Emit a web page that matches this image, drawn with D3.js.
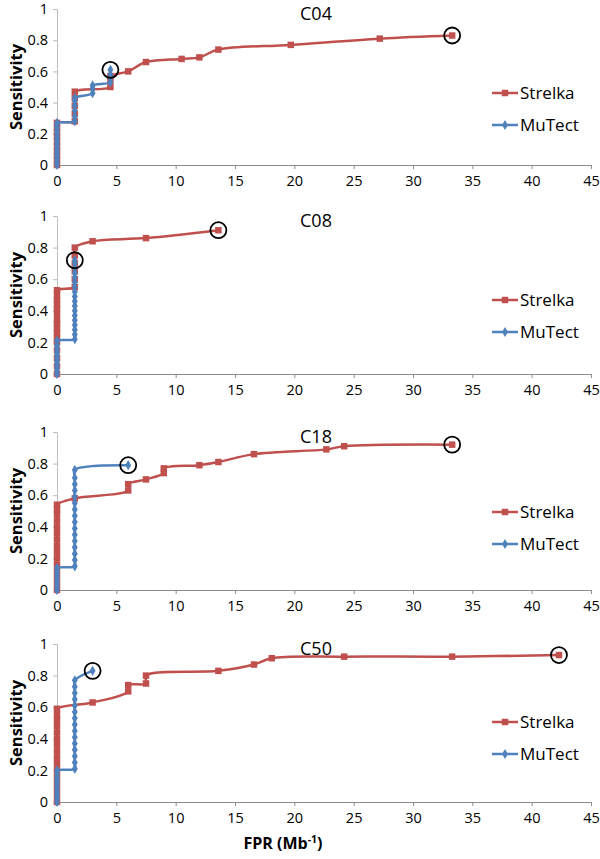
<!DOCTYPE html>
<html>
<head>
<meta charset="utf-8">
<script src="https://cdn.jsdelivr.net/npm/d3@7"></script>
<style>
  body { margin: 0; background: #fff; }
  svg { display: block; font-family: "Open Sans", sans-serif; }
</style>
</head>
<body>
<svg id="chart" width="600" height="859"></svg>
<script>
// --- data (FPR per Mb, sensitivity) ---
const sampleNames = ["C04", "C08", "C18", "C50"];
const seriesNames = ["Strelka", "MuTect"];
const xTicks = [0, 5, 10, 15, 20, 25, 30, 35, 40, 45];
const yTicks = [0, 0.2, 0.4, 0.6, 0.8, 1];

const c04Strelka = [[0,0],[0,0.03],[0,0.06],[0,0.09],[0,0.12],[0,0.15],[0,0.18],[0,0.21],[0,0.24],[0,0.27],
  [1.5,0.28],[1.5,0.33],[1.5,0.38],[1.5,0.43],[1.5,0.47],[4.5,0.5],[4.5,0.54],[4.5,0.57],[6,0.6],[7.5,0.66],
  [10.5,0.68],[12,0.69],[13.6,0.74],[19.7,0.77],[27.2,0.81],[33.3,0.83]];
const c04MuTect = [[0,0],[0,0.02],[0,0.04],[0,0.06],[0,0.08],[0,0.1],[0,0.12],[0,0.14],[0,0.16],[0,0.18],[0,0.2],
  [0,0.22],[0,0.24],[0,0.26],[0,0.27],[1.5,0.28],[1.5,0.31],[1.5,0.35],[1.5,0.38],[1.5,0.41],[1.5,0.43],
  [3,0.46],[3,0.49],[3,0.51],[4.5,0.53],[4.5,0.56],[4.5,0.58],[4.5,0.61]];

const c08Strelka = [[0,0],[0,0.05],[0,0.1],[0,0.15],[0,0.2],[0,0.23],[0,0.26],[0,0.29],[0,0.32],[0,0.34],
  [0,0.38],[0,0.41],[0,0.44],[0,0.47],[0,0.5],[0,0.53],[1.5,0.55],[1.5,0.6],[1.5,0.65],[1.5,0.7],[1.5,0.75],
  [1.5,0.8],[3,0.84],[7.5,0.86],[13.6,0.91]];
const c08MuTect = [[0,0],[0,0.02],[0,0.04],[0,0.06],[0,0.08],[0,0.1],[0,0.12],[0,0.14],[0,0.16],[0,0.18],[0,0.21],
  [1.5,0.22],[1.5,0.25],[1.5,0.28],[1.5,0.31],[1.5,0.34],[1.5,0.37],[1.5,0.4],[1.5,0.43],[1.5,0.46],[1.5,0.49],
  [1.5,0.52],[1.5,0.55],[1.5,0.58],[1.5,0.61],[1.5,0.64],[1.5,0.67],[1.5,0.7],[1.5,0.72]];

const c18Strelka = [[0,0],[0,0.04],[0,0.08],[0,0.12],[0,0.16],[0,0.2],[0,0.24],[0,0.28],[0,0.32],[0,0.36],
  [0,0.4],[0,0.44],[0,0.48],[0,0.51],[0,0.54],[1.5,0.58],[6,0.63],[6,0.67],[7.5,0.7],[9,0.74],[9,0.77],
  [12,0.79],[13.6,0.81],[16.6,0.86],[22.7,0.89],[24.2,0.91],[33.3,0.92]];
const c18MuTect = [[0,0],[0,0.02],[0,0.04],[0,0.06],[0,0.08],[0,0.1],[0,0.12],[0,0.14],
  [1.5,0.15],[1.5,0.19],[1.5,0.23],[1.5,0.27],[1.5,0.31],[1.5,0.35],[1.5,0.39],[1.5,0.43],[1.5,0.47],
  [1.5,0.51],[1.5,0.55],[1.5,0.59],[1.5,0.63],[1.5,0.67],[1.5,0.71],[1.5,0.76],[6,0.79]];

const c50Strelka = [[0,0],[0,0.04],[0,0.08],[0,0.12],[0,0.16],[0,0.2],[0,0.24],[0,0.28],[0,0.32],[0,0.36],
  [0,0.4],[0,0.44],[0,0.48],[0,0.52],[0,0.55],[0,0.59],[3,0.63],[6,0.7],[6,0.74],[7.5,0.75],[7.5,0.8],
  [13.6,0.83],[16.6,0.87],[18.1,0.91],[24.2,0.92],[33.3,0.92],[42.3,0.93]];
const c50MuTect = [[0,0],[0,0.02],[0,0.04],[0,0.06],[0,0.08],[0,0.1],[0,0.12],[0,0.14],[0,0.16],[0,0.18],[0,0.2],
  [1.5,0.21],[1.5,0.25],[1.5,0.29],[1.5,0.33],[1.5,0.37],[1.5,0.41],[1.5,0.45],[1.5,0.49],[1.5,0.53],
  [1.5,0.57],[1.5,0.61],[1.5,0.65],[1.5,0.69],[1.5,0.73],[1.5,0.77],[3,0.83]];

const panelData = [
  [c04Strelka, c04MuTect],
  [c08Strelka, c08MuTect],
  [c18Strelka, c18MuTect],
  [c50Strelka, c50MuTect],
];

// --- layout ---
const colors = ["#C0504D", "#4F81BD"];
const left = 57, right = 591, plotH = 158;
const panelTops = [9, 216, 432, 644];
const legendOffsets = [84, 84, 80, 78];

const svg = d3.select("#chart");

const x = d3.scaleLinear().domain([0, 45]).range([left, right]);

const line = d3.line()
  .x((d) => d[0])
  .y((d) => d[1])
  .curve(d3.curveCatmullRom.alpha(0.5));

sampleNames.forEach((name, i) => {
  const top = panelTops[i];
  const h = i === 0 ? plotH - 2 : plotH;
  const y = d3.scaleLinear().domain([0, 1]).range([top + h, top]);
  const g = svg.append("g");

  // y axis
  const yAxis = g.append("g")
    .attr("transform", `translate(${left},0)`)
    .call(d3.axisLeft(y).tickValues(yTicks).tickFormat(d3.format("")).tickSize(4).tickPadding(5));
  yAxis.select(".domain").attr("stroke", "#bdbdbd");
  yAxis.selectAll(".tick line").attr("stroke", "#bdbdbd");
  yAxis.selectAll("text").attr("font-size", 14.5).attr("fill", "#000").attr("font-family", "Open Sans");

  // x axis
  const xAxis = g.append("g")
    .attr("transform", `translate(0,${top + h})`)
    .call(d3.axisBottom(x).tickValues(xTicks).tickSize(4).tickPadding(7));
  xAxis.select(".domain").attr("stroke", "#8c8c8c");
  xAxis.selectAll(".tick line").attr("stroke", "#8c8c8c");
  xAxis.selectAll("text").attr("font-size", 14.5).attr("fill", "#000").attr("font-family", "Open Sans");

  // y title
  g.append("text")
    .attr("transform", `translate(22,${top + h / 2}) rotate(-90)`)
    .attr("text-anchor", "middle")
    .attr("font-size", 16.5)
    .attr("font-weight", "bold")
    .text("Sensitivity");

  // panel title
  g.append("text")
    .attr("x", 316)
    .attr("y", Math.max(top + 5, 12))
    .attr("dy", "0.35em")
    .attr("text-anchor", "middle")
    .attr("font-size", 18)
    .text(name);

  // series
  panelData[i].forEach((series, s) => {
    const pts = series.map((d) => [x(d[0]), y(d[1])]);
    g.append("path")
      .attr("d", line(pts))
      .attr("fill", "none")
      .attr("stroke", colors[s])
      .attr("stroke-width", 2.5);

    const sym = s === 0 ? d3.symbolSquare : d3.symbolDiamond;
    const size = s === 0 ? 42 : 30;
    g.append("g")
      .selectAll("path")
      .data(pts)
      .join("path")
      .attr("transform", (d) => `translate(${d[0]},${d[1]})`)
      .attr("d", d3.symbol(sym, size))
      .attr("fill", colors[s]);
  });

  // circles around final points
  panelData[i].forEach((series) => {
    const last = series[series.length - 1];
    g.append("circle")
      .attr("cx", x(last[0]))
      .attr("cy", y(last[1]))
      .attr("r", 8)
      .attr("fill", "none")
      .attr("stroke", "#000")
      .attr("stroke-width", 1.8);
  });

  // legend
  seriesNames.forEach((sn, s) => {
    const ly = top + legendOffsets[i] + s * 32;
    g.append("line")
      .attr("x1", 492).attr("x2", 518)
      .attr("y1", ly).attr("y2", ly)
      .attr("stroke", colors[s])
      .attr("stroke-width", 2.5);
    g.append("path")
      .attr("transform", `translate(505,${ly})`)
      .attr("d", d3.symbol(s === 0 ? d3.symbolSquare : d3.symbolDiamond, s === 0 ? 42 : 30))
      .attr("fill", colors[s]);
    g.append("text")
      .attr("x", 520)
      .attr("y", ly)
      .attr("dy", "0.35em")
      .attr("font-size", 17)
      .text(sn);
  });
});

// x title
const xTitle = svg.append("text")
  .attr("x", 283)
  .attr("y", 849)
  .attr("text-anchor", "middle")
  .attr("font-size", 16)
  .attr("font-weight", "bold");
xTitle.append("tspan").text("FPR (Mb");
xTitle.append("tspan").attr("font-size", 10.5).attr("dy", -6).text("-1");
xTitle.append("tspan").attr("dy", 6).text(")");
</script>
</body>
</html>
